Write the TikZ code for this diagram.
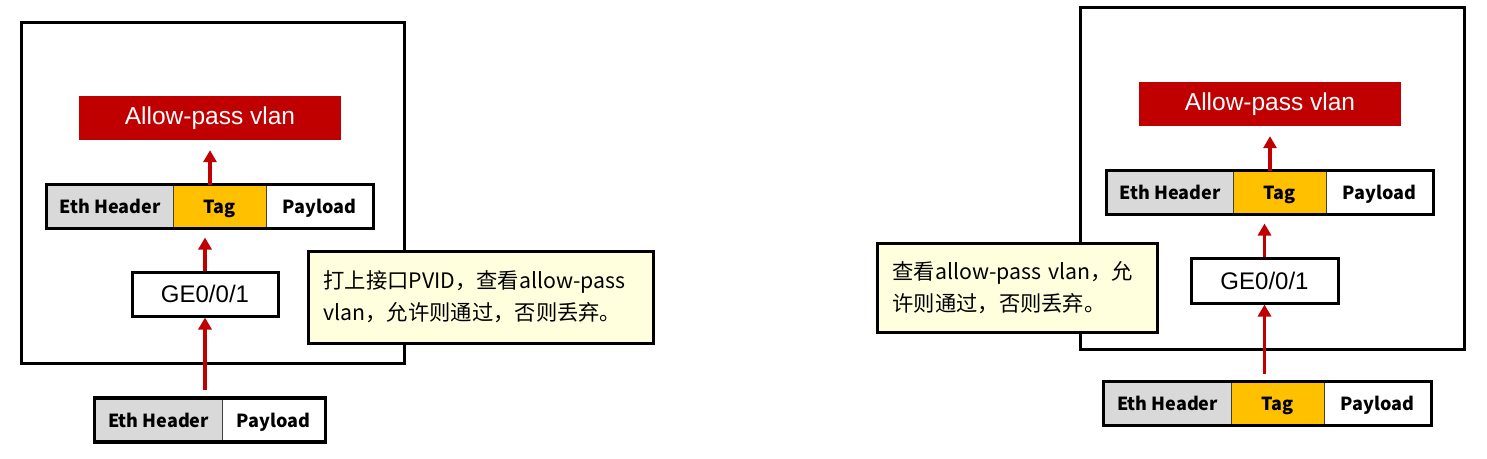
\documentclass[tikz,border=0pt]{standalone}
\usepackage{fontspec}
\setmainfont{Liberation Sans}
\newfontfamily\cjk{Noto Sans CJK SC}
\usetikzlibrary{arrows.meta}
\definecolor{hwred}{HTML}{C00000}
\definecolor{hwgray}{HTML}{D9D9D9}
\definecolor{hwyellow}{HTML}{FFC000}
\definecolor{notefill}{HTML}{FFFFDD}
\tikzset{
  frame/.style={draw=black, line width=3pt, inner sep=0pt},
  allowbox/.style={fill=hwred, text=white, inner sep=0pt, minimum width=262, minimum height=44, font=\fontsize{24.5}{24.5}\selectfont},
  cell/.style={draw=black!75, line width=1pt, inner sep=0pt, minimum height=43, text depth=0pt, font=\cjk\bfseries\fontsize{18}{18}\selectfont},
  rowframe/.style={draw=black, line width=3.5pt},
  gebox/.style={draw=black, line width=3pt, fill=white, inner sep=0pt, minimum width=146, minimum height=44, font=\fontsize{24}{24}\selectfont},
  note/.style={draw=black, line width=3pt, fill=notefill, inner xsep=15pt, inner ysep=0pt, align=left, anchor=west, font=\cjk\fontsize{21.3}{32}\selectfont},
  arr/.style={draw=hwred, line width=3.5pt, -{Triangle[width=13pt,length=12pt]}}
}
\begin{document}
\begin{tikzpicture}[x=1pt,y=-1pt]
\useasboundingbox (0,0) rectangle (1487,458);
% ---------- left panel ----------
\node[frame, minimum width=383, minimum height=341] (boxL) at (212.5,192.5) {};
\node[allowbox] (allowL) at (210,118) {Allow-pass vlan};
\node[cell, fill=hwgray, minimum width=126] (ethL1) at (110,206.5) {Eth Header};
\node[cell, fill=hwyellow, minimum width=93] (tagL1) at (219.5,206.5) {Tag};
\node[cell, fill=white, minimum width=107] (payL1) at (319.5,206.5) {Payload};
\draw[rowframe] (ethL1.north west) rectangle (payL1.south east);
\node[gebox] (geL) at (205,294) {GE0/0/1};
\node[cell, fill=hwgray, minimum width=127] (ethL0) at (158.5,420) {Eth Header};
\node[cell, fill=white, minimum width=103] (payL0) at (273.5,420) {Payload};
\draw[rowframe] (ethL0.north west) rectangle (payL0.south east);
\draw[arr, shorten >=10pt] (allowL.south |- tagL1.north) -- (allowL.south);
\draw[arr, shorten >=9pt] (geL.north) -- (geL.north |- tagL1.south);
\draw[arr, shorten <=8pt] (geL.south |- ethL0.north) -- (geL.south);
\node[note, text width=315, minimum height=92] (noteL) at (307,297) {打上接口PVID，查看allow-pass\\vlan，允许则通过，否则丢弃。};
% ---------- right panel ----------
\node[frame, minimum width=384, minimum height=342] (boxR) at (1272,178) {};
\node[allowbox] (allowR) at (1270,104) {Allow-pass vlan};
\node[cell, fill=hwgray, minimum width=126] (ethR1) at (1170,192.5) {Eth Header};
\node[cell, fill=hwyellow, minimum width=93] (tagR1) at (1279.5,192.5) {Tag};
\node[cell, fill=white, minimum width=107] (payR1) at (1379.5,192.5) {Payload};
\draw[rowframe] (ethR1.north west) rectangle (payR1.south east);
\node[gebox, minimum width=147, minimum height=45] (geR) at (1264.5,280.5) {GE0/0/1};
\node[cell, fill=hwgray, minimum width=127] (ethR0) at (1167.5,403.5) {Eth Header};
\node[cell, fill=hwyellow, minimum width=93] (tagR0) at (1277.5,403.5) {Tag};
\node[cell, fill=white, minimum width=107] (payR0) at (1377.5,403.5) {Payload};
\draw[rowframe] (ethR0.north west) rectangle (payR0.south east);
\draw[arr, shorten >=10pt] (allowR.south |- tagR1.north) -- (allowR.south);
\draw[arr, shorten >=9pt] (geR.north) -- (geR.north |- tagR1.south);
\draw[arr, shorten <=8pt] (geR.south |- ethR0.north) -- (geR.south);
\node[note, text width=250, minimum height=89] (noteR) at (876,287.5) {查看allow-pass vlan，允\\许则通过，否则丢弃。};
\end{tikzpicture}
\end{document}
